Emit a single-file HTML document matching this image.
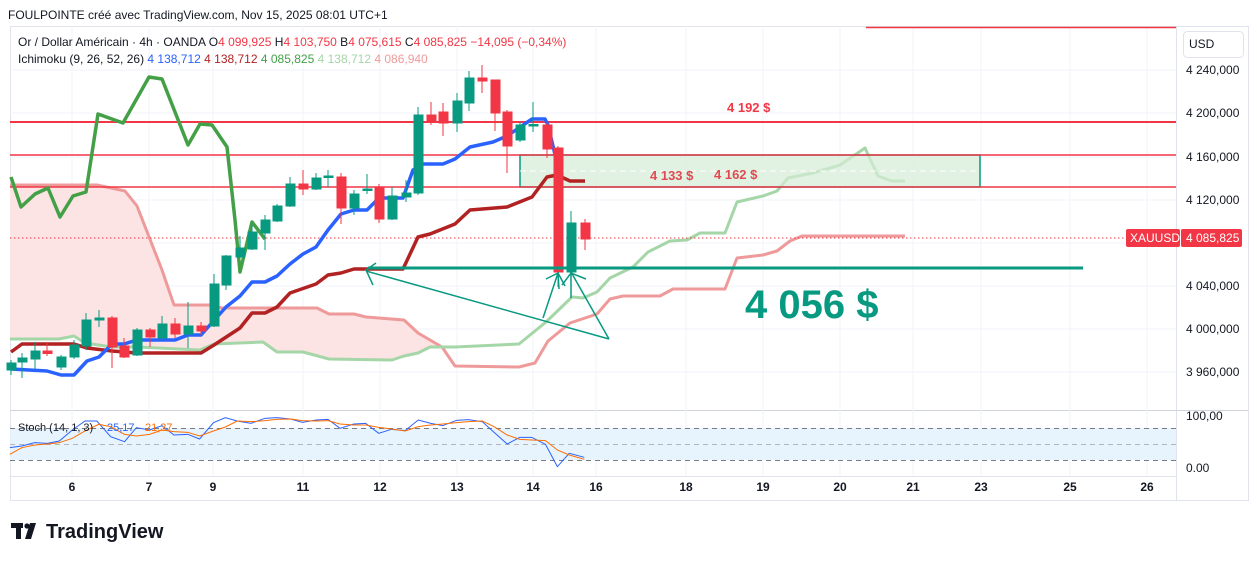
<!DOCTYPE html>
<html><head><meta charset="utf-8"><style>
body{margin:0;width:1257px;height:561px;background:#fff;overflow:hidden;font-family:"Liberation Sans",sans-serif;position:relative}
</style></head><body>
<svg width="1257" height="561" style="position:absolute;left:0;top:0" font-family="Liberation Sans, sans-serif">
<defs>
<clipPath id="cr"><rect x="10" y="26" width="427" height="384"/></clipPath>
<clipPath id="cg"><rect x="437" y="26" width="500" height="384"/></clipPath>
</defs>
<rect x="10.5" y="26.5" width="1238" height="474" fill="none" stroke="#e0e3eb"/>
<line x1="1176.5" y1="26" x2="1176.5" y2="500" stroke="#e0e3eb"/>
<line x1="10" y1="410.5" x2="1248" y2="410.5" stroke="#d1d4dc"/>
<line x1="10" y1="476.5" x2="1176" y2="476.5" stroke="#e0e3eb"/>
<g stroke="#f0f3fa">
<line x1="10" y1="70" x2="1176" y2="70"/><line x1="10" y1="113" x2="1176" y2="113"/><line x1="10" y1="157" x2="1176" y2="157"/><line x1="10" y1="200" x2="1176" y2="200"/><line x1="10" y1="243" x2="1176" y2="243"/><line x1="10" y1="286" x2="1176" y2="286"/><line x1="10" y1="329" x2="1176" y2="329"/><line x1="10" y1="372" x2="1176" y2="372"/>
<line x1="72" y1="26" x2="72" y2="476"/><line x1="149" y1="26" x2="149" y2="476"/><line x1="213" y1="26" x2="213" y2="476"/><line x1="303" y1="26" x2="303" y2="476"/><line x1="380" y1="26" x2="380" y2="476"/><line x1="457" y1="26" x2="457" y2="476"/><line x1="533" y1="26" x2="533" y2="476"/><line x1="596" y1="26" x2="596" y2="476"/><line x1="686" y1="26" x2="686" y2="476"/><line x1="763" y1="26" x2="763" y2="476"/><line x1="840" y1="26" x2="840" y2="476"/><line x1="913" y1="26" x2="913" y2="476"/><line x1="981" y1="26" x2="981" y2="476"/><line x1="1070" y1="26" x2="1070" y2="476"/><line x1="1147" y1="26" x2="1147" y2="476"/>
</g>
<polygon id="cl" points="10,185 97,185 125,191 137,206 162,270 174,305 210,305 222,308 317,308 329,314 354,314 366,317 404,320 418,333 442,347 455,366 519,367 535,363 548,341 570,323 597,314 610,299 623,296 660,296 673,289 725,289 737,258 763,255 777,251 790,241 802,236 905,236 905,181 892,181 878,176 865,148 840,165 813,173 788,178 777,191 763,196 737,202 725,233 700,233 687,240 670,241 648,252 633,267 610,278 597,292 583,298 572,297 546,322 519,344 455,347 430,347 418,353 404,356 392,360 329,359 303,352 277,352 263,342 214,344 200,350 137,347 112,347 85,343 74,336 59,339 10,339" fill="#fce4e4" clip-path="url(#cr)"/>
<use href="#cl" fill="#e6f3e6" clip-path="url(#cg)"/>
<polyline fill="none" stroke="#ef9a9a" stroke-width="3" stroke-linejoin="round" points="10,185 97,185 125,191 137,206 162,270 174,305 210,305 222,308 317,308 329,314 354,314 366,317 404,320 418,333 442,347 455,366 519,367 535,363 548,341 570,323 597,314 610,299 623,296 660,296 673,289 725,289 737,258 763,255 777,251 790,241 802,236 905,236"/>
<polyline fill="none" stroke="#a5d6a7" stroke-width="3" stroke-linejoin="round" points="10,339 59,339 74,336 85,343 112,347 137,347 200,350 214,344 263,342 277,352 303,352 329,359 392,360 404,356 418,353 430,347 455,347 519,344 546,322 572,297 583,298 597,292 610,278 633,267 648,252 670,241 687,240 700,233 725,233 737,202 763,196 777,191 788,178 813,173 840,165 865,148 878,176 892,181 905,181"/>
<rect x="520" y="155" width="460" height="32" fill="#d6ecd6" fill-opacity="0.7" stroke="#089981" stroke-width="1.5"/>
<line x1="520" y1="171" x2="980" y2="171" stroke="#fff" stroke-dasharray="6,4"/>
<line x1="10" y1="122" x2="1176" y2="122" stroke="#f23645" stroke-width="2"/>
<line x1="10" y1="155" x2="1176" y2="155" stroke="#f23645" stroke-width="1.5"/>
<line x1="10" y1="187" x2="1176" y2="187" stroke="#f23645" stroke-width="1.5"/>
<line x1="866" y1="27.5" x2="1176" y2="27.5" stroke="#f23645" stroke-width="1.5"/>
<line x1="10" y1="238" x2="1126" y2="238" stroke="#f23645" stroke-dasharray="1.5,2.5"/>
<polyline fill="none" stroke="#43a047" stroke-width="3.5" stroke-linejoin="round" points="11,177 21,207 35,194 48,188 60,217 73,196 86,192 98,114 123,123 149,77 162,79 188,145 200,124 212,125 227,147 235,220 240,272 252,222 265,239"/>
<polyline fill="none" stroke="#b22222" stroke-width="3.5" stroke-linejoin="round" points="11,352 22,344 74,344 87,348 112,351 137,353 201,353 214,345 240,328 252,313 265,313 277,307 290,293 316,284 328,275 341,273 354,269 403,269 418,237 430,234 455,224 470,210 507,207 532,197 547,177 557,175 570,181 585,181"/>
<polyline fill="none" stroke="#2962ff" stroke-width="3.5" stroke-linejoin="round" points="11,369 47,371 61,375 74,375 87,361 99,357 112,344 124,344 137,340 175,340 188,335 201,335 226,307 240,296 252,282 265,282 277,276 290,264 303,254 316,247 328,230 341,214 354,210 367,210 379,198 403,198 413,170 423,164 443,164 455,159 470,147 493,142 507,136 532,119 545,119 548,125 557,163"/>
<g stroke-width="1">
<g fill="#089981" stroke="#089981">
<line x1="11" y1="360" x2="11" y2="375"/><rect x="7" y="363" width="9" height="7"/>
<line x1="22" y1="353" x2="22" y2="378"/><rect x="18" y="358" width="9" height="4"/>
<line x1="35" y1="342" x2="35" y2="369"/><rect x="31" y="351" width="9" height="8"/>
<line x1="61" y1="355" x2="61" y2="370"/><rect x="57" y="357" width="9" height="10"/>
<line x1="74" y1="340" x2="74" y2="359"/><rect x="70" y="345" width="9" height="12"/>
<line x1="86" y1="313" x2="86" y2="350"/><rect x="82" y="320" width="9" height="26"/>
<line x1="99" y1="310" x2="99" y2="327"/><rect x="95" y="318" width="9" height="2"/>
<line x1="137" y1="328" x2="137" y2="356"/><rect x="133" y="330" width="9" height="25"/>
<line x1="162" y1="316" x2="162" y2="340"/><rect x="158" y="324" width="9" height="14"/>
<line x1="188" y1="302" x2="188" y2="348"/><rect x="184" y="326" width="9" height="8"/>
<line x1="214" y1="274" x2="214" y2="327"/><rect x="210" y="284" width="9" height="42"/>
<line x1="226" y1="255" x2="226" y2="290"/><rect x="222" y="256" width="9" height="29"/>
<line x1="240" y1="236" x2="240" y2="258"/><rect x="236" y="248" width="9" height="9"/>
<line x1="252" y1="225" x2="252" y2="250"/><rect x="248" y="232" width="9" height="17"/>
<line x1="265" y1="215" x2="265" y2="250"/><rect x="261" y="220" width="9" height="13"/>
<line x1="277" y1="204" x2="277" y2="222"/><rect x="273" y="206" width="9" height="15"/>
<line x1="290" y1="177" x2="290" y2="207"/><rect x="286" y="184" width="9" height="22"/>
<line x1="316" y1="173" x2="316" y2="190"/><rect x="312" y="178" width="9" height="11"/>
<line x1="328" y1="170" x2="328" y2="187"/><rect x="324" y="176" width="9" height="1.5"/>
<line x1="354" y1="190" x2="354" y2="215"/><rect x="350" y="194" width="9" height="14"/>
<line x1="367" y1="174" x2="367" y2="194"/><rect x="363" y="189" width="9" height="1.5"/>
<line x1="392" y1="187" x2="392" y2="220"/><rect x="388" y="196" width="9" height="23"/>
<line x1="406" y1="180" x2="406" y2="202"/><rect x="402" y="193" width="9" height="4"/>
<line x1="418" y1="107" x2="418" y2="195"/><rect x="414" y="115" width="9" height="78"/>
<line x1="457" y1="93" x2="457" y2="132"/><rect x="453" y="101" width="9" height="22"/>
<line x1="469" y1="71" x2="469" y2="111"/><rect x="465" y="78" width="9" height="25"/>
<line x1="520" y1="122" x2="520" y2="142"/><rect x="516" y="125" width="9" height="15"/>
<line x1="533" y1="102" x2="533" y2="132"/><rect x="529" y="124.5" width="9" height="1.5"/>
<line x1="571" y1="211" x2="571" y2="285"/><rect x="567" y="223" width="9" height="49"/>
</g>
<g fill="#f23645" stroke="#f23645">
<line x1="47" y1="342" x2="47" y2="356"/><rect x="43" y="351" width="9" height="2.5"/>
<line x1="112" y1="316" x2="112" y2="368"/><rect x="108" y="318" width="9" height="29"/>
<line x1="124" y1="338" x2="124" y2="358"/><rect x="120" y="346" width="9" height="11"/>
<line x1="150" y1="328" x2="150" y2="347"/><rect x="146" y="330" width="9" height="7"/>
<line x1="175" y1="318" x2="175" y2="338"/><rect x="171" y="324" width="9" height="10"/>
<line x1="201" y1="322" x2="201" y2="335"/><rect x="197" y="326" width="9" height="5"/>
<line x1="303" y1="170" x2="303" y2="195"/><rect x="299" y="184" width="9" height="5"/>
<line x1="341" y1="173" x2="341" y2="224"/><rect x="337" y="177" width="9" height="31"/>
<line x1="379" y1="184" x2="379" y2="223"/><rect x="375" y="187" width="9" height="32"/>
<line x1="431" y1="102" x2="431" y2="125"/><rect x="427" y="115" width="9" height="6"/>
<line x1="443" y1="103" x2="443" y2="136"/><rect x="439" y="112" width="9" height="11"/>
<line x1="482" y1="65" x2="482" y2="93"/><rect x="478" y="78" width="9" height="3"/>
<line x1="495" y1="80" x2="495" y2="131"/><rect x="491" y="80" width="9" height="33"/>
<line x1="507" y1="110" x2="507" y2="173"/><rect x="503" y="112" width="9" height="34"/>
<line x1="547" y1="123" x2="547" y2="158"/><rect x="543" y="125" width="9" height="24"/>
<line x1="558" y1="146" x2="558" y2="287"/><rect x="554" y="148" width="9" height="124"/>
<line x1="585" y1="219" x2="585" y2="250"/><rect x="581" y="223" width="9" height="16"/>
</g>
</g>
<line x1="368" y1="268" x2="1083" y2="268" stroke="#089981" stroke-width="3"/>
<g stroke="#089981" stroke-width="1.5" fill="none">
<polyline points="376,263 366,270 373,285"/>
<line x1="366" y1="271" x2="609" y2="339"/>
<line x1="609" y1="339" x2="571" y2="272"/>
<line x1="571" y1="272" x2="571" y2="298"/>
<line x1="543" y1="318" x2="558" y2="273"/>
<line x1="558" y1="273" x2="565" y2="286"/>
<polyline points="546,279 558,273 559,289"/>
<polyline points="562,285 571,273 586,279"/>
</g>
<text x="727" y="112" fill="#f23645" font-size="13" font-weight="bold">4 192 $</text>
<text x="650" y="180" fill="#e04a52" font-size="13" font-weight="bold">4 133 $</text>
<text x="714" y="179" fill="#e04a52" font-size="13" font-weight="bold">4 162 $</text>
<text x="745" y="318" fill="#089981" font-size="40" font-weight="bold">4 056 $</text>
<rect x="10" y="428" width="1166" height="32" fill="#e3f2fd" fill-opacity="0.85"/>
<g stroke="#787b86" stroke-dasharray="5,4">
<line x1="10" y1="428.5" x2="1176" y2="428.5"/><line x1="10" y1="460.5" x2="1176" y2="460.5"/>
</g>
<line x1="10" y1="444.5" x2="1176" y2="444.5" stroke="#b2b5be" stroke-dasharray="5,4"/>
<g transform="translate(0,405) scale(0.3953,0.3333)" fill="none">
<polyline vector-effect="non-scaling-stroke" stroke="#2962ff" stroke-width="1" points="25,128 55,123 88,113 120,115 150,108 183,75 215,48 245,48 280,95 315,110 345,68 378,75 410,62 440,90 475,88 505,102 540,53 570,38 600,48 635,55 670,40 700,38 735,42 765,52 800,45 830,43 860,70 895,57 925,55 958,85 990,73 1025,77 1058,45 1090,55 1120,62 1155,46 1185,44 1220,50 1250,82 1283,117 1315,97 1345,97 1380,118 1410,185 1440,145 1478,157"/>
<polyline vector-effect="non-scaling-stroke" stroke="#ff6d00" stroke-width="1" points="25,148 55,128 88,120 120,117 150,113 183,100 215,78 250,58 280,65 315,88 345,93 378,88 410,75 440,80 475,82 505,93 540,78 570,66 600,48 635,50 670,47 700,43 735,42 765,47 800,48 830,47 860,57 895,60 925,60 958,67 990,72 1025,78 1058,65 1090,60 1120,57 1155,53 1185,50 1220,48 1250,65 1283,90 1315,103 1345,105 1380,107 1410,135 1440,150 1478,163"/>
</g>
<text x="18" y="431" font-size="11" fill="#131722">Stoch (14, 1, 3)</text>
<text x="107" y="431" font-size="11" fill="#2962ff">25,17</text>
<text x="145" y="431" font-size="11" fill="#ff6d00">21,37</text>
<rect x="1183.5" y="31.5" width="60" height="26" rx="4" fill="#fff" stroke="#e0e3eb"/>
<text x="1189" y="48" font-size="12" fill="#131722">USD</text>
<g font-size="12" fill="#131722">
<text x="1186" y="74">4 240,000</text><text x="1186" y="117">4 200,000</text><text x="1186" y="161">4 160,000</text><text x="1186" y="204">4 120,000</text><text x="1186" y="290">4 040,000</text><text x="1186" y="333">4 000,000</text><text x="1186" y="376">3 960,000</text>
<text x="1186" y="420">100,00</text><text x="1186" y="472">0.00</text>
</g>
<rect x="1126" y="229" width="54" height="18" rx="2" fill="#f23645"/>
<rect x="1181" y="229" width="61" height="18" rx="2" fill="#f23645"/>
<text x="1130" y="242" font-size="12" fill="#fff">XAUUSD</text>
<text x="1186" y="242" font-size="12" fill="#fff">4 085,825</text>
<g font-size="12" fill="#131722" font-weight="bold" text-anchor="middle">
<text x="72" y="491">6</text><text x="149" y="491">7</text><text x="213" y="491">9</text><text x="303" y="491">11</text><text x="380" y="491">12</text><text x="457" y="491">13</text><text x="533" y="491">14</text><text x="596" y="491">16</text><text x="686" y="491">18</text><text x="763" y="491">19</text><text x="840" y="491">20</text><text x="913" y="491">21</text><text x="981" y="491">23</text><text x="1070" y="491">25</text><text x="1147" y="491">26</text>
</g>
<text x="8" y="19" font-size="12" fill="#131722">FOULPOINTE créé avec TradingView.com, Nov 15, 2025 08:01 UTC+1</text>
<text x="18" y="46" font-size="12" fill="#131722">Or / Dollar Américain · 4h · OANDA <tspan>O</tspan><tspan fill="#f23645">4 099,925</tspan> H<tspan fill="#f23645">4 103,750</tspan> B<tspan fill="#f23645">4 075,615</tspan> C<tspan fill="#f23645">4 085,825</tspan> <tspan fill="#f23645">−14,095 (−0,34%)</tspan></text>
<text x="18" y="63" font-size="12" fill="#131722">Ichimoku (9, 26, 52, 26) <tspan fill="#2962ff">4 138,712</tspan> <tspan fill="#b22222">4 138,712</tspan> <tspan fill="#43a047">4 085,825</tspan> <tspan fill="#a5d6a7">4 138,712</tspan> <tspan fill="#ef9a9a">4 086,940</tspan></text>
<g fill="#131722">
<rect x="11" y="523" width="12" height="5"/><rect x="16" y="523" width="5" height="16"/>
<circle cx="27" cy="526" r="2.6"/>
<polygon points="30,523 36,523 31,539 25,539"/>
</g>
<text x="46" y="538" font-size="20" font-weight="bold" fill="#131722">TradingView</text>
</svg>
</body></html>
